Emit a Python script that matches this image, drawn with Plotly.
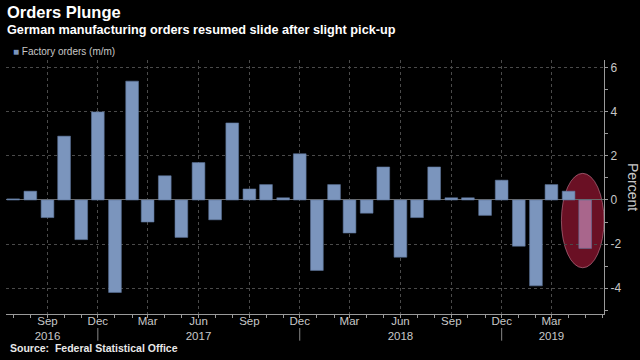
import plotly.graph_objects as go

# ---- data ----
months = [
    "2016-07", "2016-08", "2016-09", "2016-10", "2016-11", "2016-12",
    "2017-01", "2017-02", "2017-03", "2017-04", "2017-05", "2017-06",
    "2017-07", "2017-08", "2017-09", "2017-10", "2017-11", "2017-12",
    "2018-01", "2018-02", "2018-03", "2018-04", "2018-05", "2018-06",
    "2018-07", "2018-08", "2018-09", "2018-10", "2018-11", "2018-12",
    "2019-01", "2019-02", "2019-03", "2019-04", "2019-05",
]
orders = [
    0.05, 0.4, -0.8, 2.9, -1.8, 4.0,
    -4.2, 5.4, -1.0, 1.1, -1.7, 1.7,
    -0.9, 3.5, 0.5, 0.7, 0.1, 2.1,
    -3.2, 0.7, -1.5, -0.6, 1.5, -2.6,
    -0.8, 1.5, 0.1, 0.1, -0.7, 0.9,
    -2.1, -3.9, 0.7, 0.4, -2.2,
]
highlight_month = "2019-05"

tick_months = ["2016-09", "2016-12", "2017-03", "2017-06", "2017-09", "2017-12",
               "2018-03", "2018-06", "2018-09", "2018-12", "2019-03"]
tick_text = ["Sep<br>2016", "Dec", "Mar", "Jun<br>2017", "Sep", "Dec",
             "Mar", "Jun<br>2018", "Sep", "Dec", "Mar<br>2019"]
year_break_months = ["2016-12", "2017-12", "2018-12"]

y_ticks = [-4, -2, 0, 2, 4, 6]
y_tick_text = ["-4", "-2", "0", "2", "4", "6"]

# ---- styling ----
BAR = "#7b95bd"
BAR_EDGE = "#5d7398"
PINK = "#a9668c"
GRID = "#4a4a4a"
AXIS = "#9a9a9a"
TXT = "#c8c8c8"
FONT = "Liberation Sans"

xd = [m + "-01" for m in months]
colors = [PINK if m == highlight_month else BAR for m in months]

fig = go.Figure()
fig.add_trace(go.Bar(
    x=xd, y=orders, marker=dict(color=colors, line=dict(width=0.6, color=BAR_EDGE)),
    width=23 * 86400000, showlegend=False, name="Factory orders (m/m)",
))

shapes = [
    dict(type="circle", xref="x", yref="y", x0="2019-03-19", x1="2019-06-04",
         y0=-3.08, y1=1.21, fillcolor="#6a1024",
         line=dict(color="rgba(230,150,175,0.5)", width=1), layer="below"),
]
for m in year_break_months:
    shapes.append(dict(type="line", xref="x", yref="paper", x0=m + "-01", x1=m + "-01",
                       y0=-0.055, y1=-0.105, line=dict(color="#888", width=1)))

annotations = [
    dict(text="<b>Orders Plunge</b>", xref="paper", yref="paper", x=-0.002, y=1.19,
         xanchor="left", yanchor="middle", showarrow=False,
         font=dict(family=FONT, size=16.5, color="white")),
    dict(text="<b>German manufacturing orders resumed slide after slight pick-up</b>",
         xref="paper", yref="paper", x=-0.002, y=1.118, xanchor="left", yanchor="middle",
         showarrow=False, font=dict(family=FONT, size=12.7, color="white")),
    dict(text=f"<span style='color:{BAR}'>■</span> Factory orders (m/m)",
         xref="paper", yref="paper", x=0.008, y=1.035, xanchor="left", yanchor="middle",
         showarrow=False, font=dict(family=FONT, size=10, color=TXT)),
    dict(text="<b>Source:  Federal Statistical Office</b>", xref="paper", yref="paper",
         x=0.003, y=-0.132, xanchor="left", yanchor="middle", showarrow=False,
         font=dict(family=FONT, size=10.5, color="#e8e8e8")),
    dict(text="Percent", xref="paper", yref="paper", x=1.0485, y=0.5, textangle=90,
         xanchor="center", yanchor="middle", showarrow=False,
         font=dict(family=FONT, size=14, color=TXT)),
]

fig.update_layout(
    width=640, height=360,
    margin=dict(l=6, r=36, t=60, b=46),
    paper_bgcolor="black", plot_bgcolor="black",
    shapes=shapes, annotations=annotations,
    xaxis=dict(
        type="date", range=["2016-06-18", "2019-06-04"],
        tickvals=[m + "-01" for m in tick_months], ticktext=tick_text,
        ticks="outside", ticklen=3, tickcolor=AXIS,
        showgrid=True, gridcolor=GRID, griddash="dot", gridwidth=1,
        showline=True, linecolor=AXIS, linewidth=1,
        tickfont=dict(family=FONT, size=11.5, color=TXT),
        ticklabelstandoff=-7,
        minor=dict(ticks="outside", ticklen=3, dtick="M1", tick0="2016-07-01",
                   tickcolor=AXIS, showgrid=False),
        zeroline=False,
    ),
    yaxis=dict(
        side="right", range=[-5.18, 6.36],
        tickvals=y_ticks, ticktext=y_tick_text,
        ticks="outside", ticklen=3, tickcolor=AXIS,
        showgrid=True, gridcolor=GRID, griddash="dot", gridwidth=1,
        showline=True, linecolor=AXIS, linewidth=1,
        zeroline=True, zerolinecolor="#6a6a6a", zerolinewidth=1,
        tickfont=dict(family=FONT, size=12, color=TXT),
        minor=dict(ticks="outside", ticklen=3, dtick=1, tickcolor=AXIS, showgrid=False),
    ),
)

# Remove the browser's default 8px body margin so the 640x360 figure fills the window.
fig.write_html("out.html", config={"displayModeBar": False},
               post_script="document.body.style.margin='0';")
